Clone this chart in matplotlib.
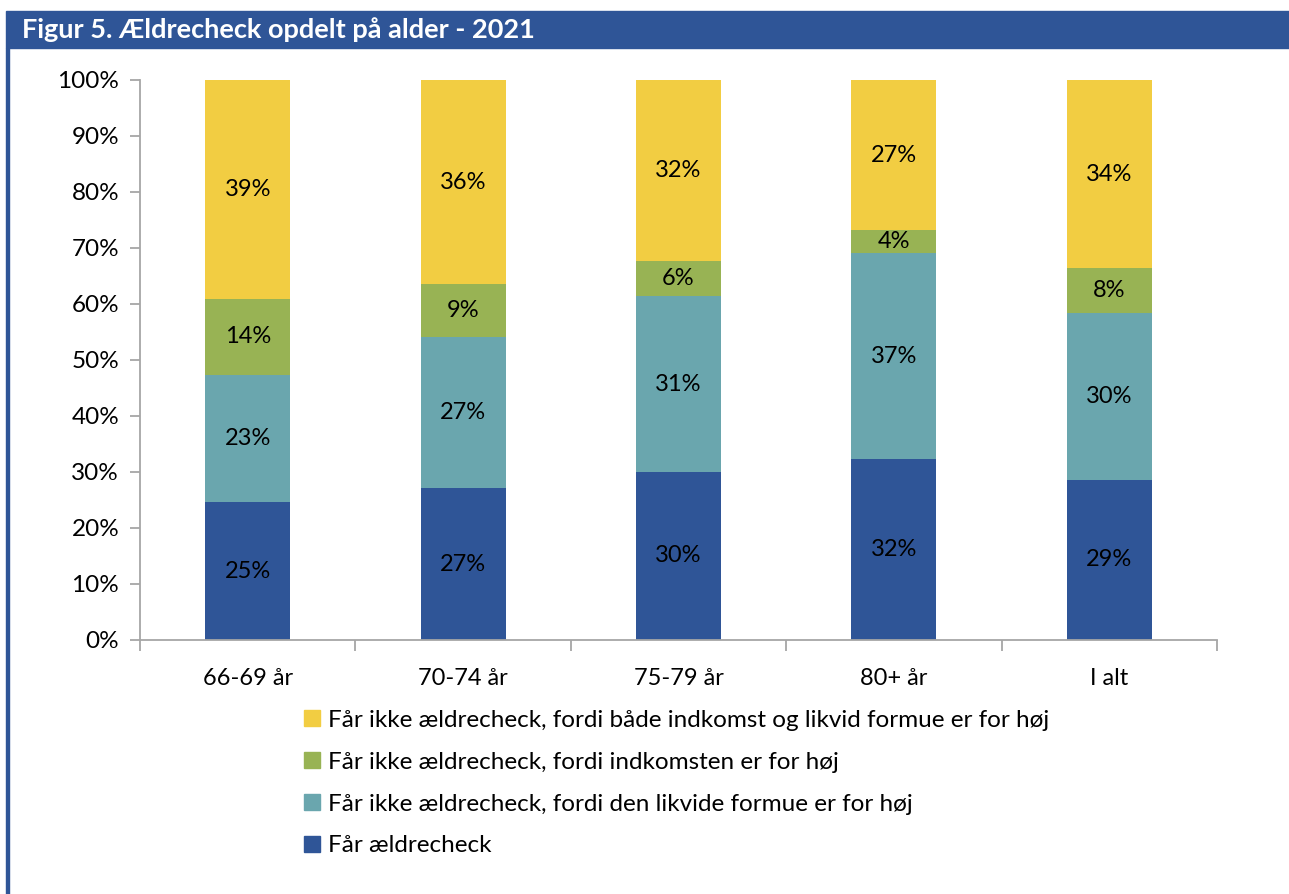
import matplotlib.pyplot as plt
from matplotlib.patches import Rectangle, Patch
from matplotlib.ticker import FixedLocator, PercentFormatter
import numpy as np

plt.rcParams['font.family'] = ['Lato', 'DejaVu Sans']

# data (andele i procent)
kategorier = ['66-69 år', '70-74 år', '75-79 år', '80+ år', 'I alt']
faar_check = [24.6, 27.1, 30.0, 32.3, 28.6]
likvid_formue = [22.8, 27.0, 31.4, 36.8, 29.8]
indkomst = [13.5, 9.4, 6.3, 4.1, 8.0]
begge = [39.1, 36.5, 32.3, 26.8, 33.6]

serier = ['Får ældrecheck',
          'Får ikke ældrecheck, fordi den likvide formue er for høj',
          'Får ikke ældrecheck, fordi indkomsten er for høj',
          'Får ikke ældrecheck, fordi både indkomst og likvid formue er for høj']
farver = ['#2F5597', '#6AA6AE', '#98B354', '#F2CD42']

titel = 'Figur 5. Ældrecheck opdelt på alder - 2021'

W, H = 1289, 894
fig = plt.figure(figsize=(W / 100, H / 100), dpi=100)

# titelbjælke og venstre kant
fig.patches.append(Rectangle((6 / W, 1 - 48 / H), 1, 37 / H, transform=fig.transFigure,
                             color='#2F5597', zorder=0))
fig.patches.append(Rectangle((6 / W, 0), 2.5 / W, 1 - 48 / H, transform=fig.transFigure,
                             color='#2F5597', zorder=0))
fig.text(22 / W, 1 - 30 / H, titel, color='white', fontsize=19.5, fontweight='bold',
         va='center', ha='left')

ax = fig.add_axes([140 / W, (H - 640) / H, (1217 - 140) / W, 560 / H])

x = np.arange(len(kategorier))
bund = np.zeros(len(kategorier))
for vals, col, navn in zip([faar_check, likvid_formue, indkomst, begge], farver, serier):
    vals = np.array(vals)
    ax.bar(x, vals, 0.395, bottom=bund, color=col, label=navn, zorder=2)
    for xi, b, v in zip(x, bund, vals):
        ax.text(xi, b + v / 2, f'{v:.0f}%', ha='center', va='center', fontsize=17,
                color='black', zorder=3)
    bund = bund + vals

ax.set_xlim(-0.5, len(kategorier) - 0.5)
ax.set_ylim(0, 100)
ax.yaxis.set_major_locator(FixedLocator(np.arange(0, 101, 10)))
ax.yaxis.set_major_formatter(PercentFormatter(decimals=0))

ax.set_xticks(np.arange(-0.5, len(kategorier), 1))
ax.set_xticklabels([])
ax.set_xticks(x, minor=True)
ax.set_xticklabels(kategorier, minor=True)
ax.tick_params(axis='x', which='major', length=8, color='#A6A6A6', width=1.3)
ax.tick_params(axis='x', which='minor', length=0, pad=20, labelsize=17)
ax.tick_params(axis='y', length=7, color='#A6A6A6', width=1.3, labelsize=17.5, pad=8)

for s in ['top', 'right']:
    ax.spines[s].set_visible(False)
for s in ['left', 'bottom']:
    ax.spines[s].set_color('#A6A6A6')
    ax.spines[s].set_linewidth(1.3)

handles = [Patch(color=c, label=n) for c, n in zip(farver, serier)][::-1]
fig.legend(handles=handles, loc='upper left', bbox_to_anchor=(294 / W, 1 - 700 / H),
           frameon=False, fontsize=17.5, handlelength=0.65, handleheight=0.65,
           handletextpad=0.35, labelspacing=0.86, borderaxespad=0)

fig.savefig('out.png', dpi=100)
